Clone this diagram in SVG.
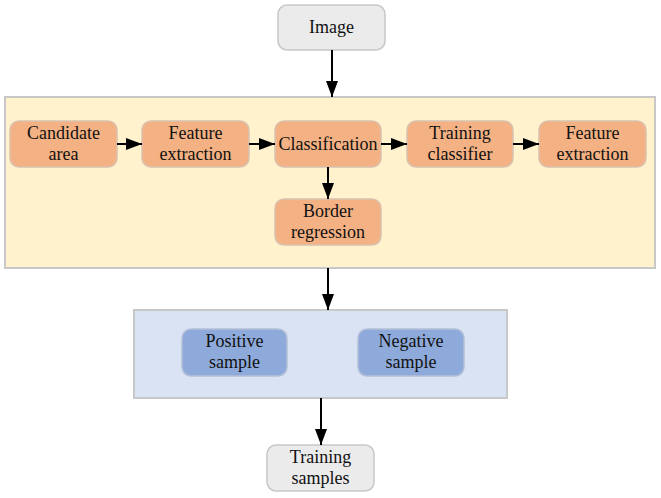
<svg xmlns="http://www.w3.org/2000/svg" width="661" height="498" viewBox="0 0 661 498">
<defs>
<marker id="ah" viewBox="0 0 16 12" refX="16" refY="6" markerWidth="16" markerHeight="12" markerUnits="userSpaceOnUse" orient="auto">
<path d="M0,0 L16,6 L0,12 Z" fill="#000"/>
</marker>
<style>
text{font-family:"Liberation Serif","Times New Roman",serif;font-size:18px;fill:#111;text-anchor:middle}
.gray{fill:#ebebeb;stroke:#c8c8c8;stroke-width:1.5}
.org{fill:#f4b183;stroke:#d9c2b0;stroke-width:1.5}
.blu{fill:#8eaadb;stroke:#b4c0d8;stroke-width:1.5}
.panelY{fill:#fff2cc;stroke:#c8c8c8;stroke-width:2}
.panelB{fill:#dae3f3;stroke:#c8c8c8;stroke-width:2}
.c{stroke:#000;stroke-width:2;fill:none;marker-end:url(#ah)}
</style>
</defs>
<g id="panel-yellow"><rect class="panelY" x="5" y="97" width="650" height="171"/></g>
<g id="panel-blue"><rect class="panelB" x="134" y="310" width="373" height="88"/></g>
<g id="image"><rect class="gray" x="278" y="5" width="107" height="45" rx="9"/><text x="331.5" y="33">Image</text></g>
<g id="candidate"><rect class="org" x="10" y="121" width="107" height="46" rx="9"/><text x="63.5" y="139">Candidate</text><text x="63.5" y="160">area</text></g>
<g id="feature1"><rect class="org" x="142" y="121" width="107" height="46" rx="9"/><text x="195.5" y="139">Feature</text><text x="195.5" y="160">extraction</text></g>
<g id="classification"><rect class="org" x="275" y="121" width="106" height="46" rx="9"/><text x="328" y="150">Classification</text></g>
<g id="training-classifier"><rect class="org" x="407" y="121" width="106" height="46" rx="9"/><text x="460" y="139">Training</text><text x="460" y="160">classifier</text></g>
<g id="feature2"><rect class="org" x="539" y="121" width="107" height="46" rx="9"/><text x="592.5" y="139">Feature</text><text x="592.5" y="160">extraction</text></g>
<g id="border"><rect class="org" x="275" y="199" width="106" height="46" rx="9"/><text x="328" y="217">Border</text><text x="328" y="238">regression</text></g>
<g id="positive"><rect class="blu" x="182" y="329" width="105" height="47" rx="9"/><text x="234.5" y="347">Positive</text><text x="234.5" y="368">sample</text></g>
<g id="negative"><rect class="blu" x="358" y="329" width="106" height="47" rx="9"/><text x="411" y="347">Negative</text><text x="411" y="368">sample</text></g>
<g id="training-samples"><rect class="gray" x="267" y="445" width="107" height="46" rx="9"/><text x="320.5" y="463">Training</text><text x="320.5" y="484">samples</text></g>
<g id="connectors">
<line class="c" x1="332" y1="50" x2="332" y2="97"/>
<line class="c" x1="117" y1="144" x2="142" y2="144"/>
<line class="c" x1="249" y1="144" x2="275" y2="144"/>
<line class="c" x1="381" y1="144" x2="407" y2="144"/>
<line class="c" x1="513" y1="144" x2="539" y2="144"/>
<line class="c" x1="328" y1="167" x2="328" y2="199"/>
<line class="c" x1="328" y1="268" x2="328" y2="310"/>
<line class="c" x1="321" y1="398" x2="321" y2="445"/>
</g>
</svg>
